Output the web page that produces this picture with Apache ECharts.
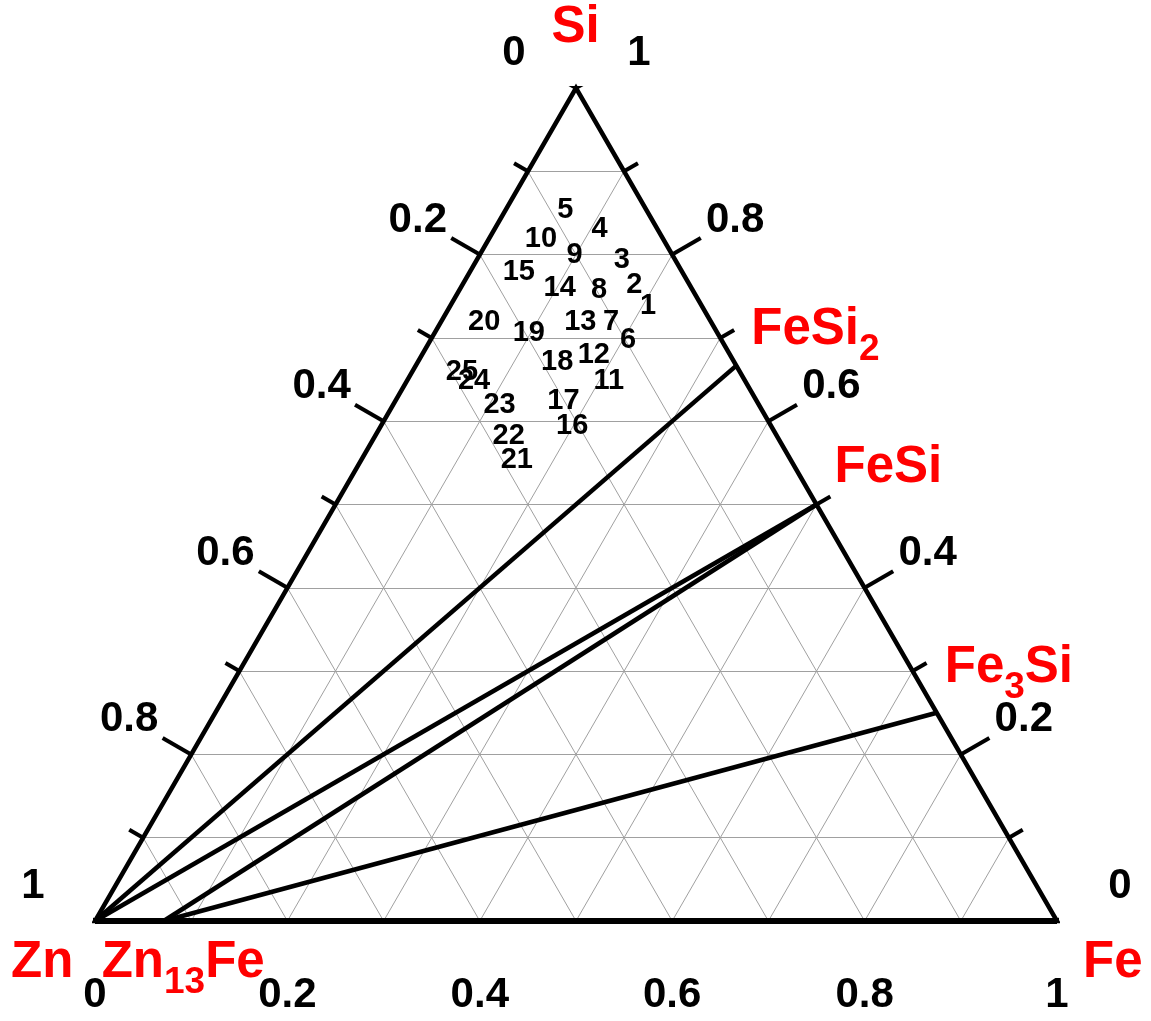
<!DOCTYPE html>
<html>
<head>
<meta charset="utf-8">
<script src="https://cdn.jsdelivr.net/npm/echarts@6/dist/echarts.min.js"></script>
<style>
  html, body { margin: 0; padding: 0; background: #ffffff; }
  #chart { width: 1151px; height: 1021px; }
</style>
</head>
<body>
<div id="chart"></div>
<script>
// Zn–Fe–Si ternary section: sample compositions (mole fractions) and tie lines.

// Sample points: label, Fe fraction, Si fraction, Zn fraction
const sampleIds = ['1', '2', '3', '4', '5', '6', '7', '8', '9', '10',
                   '11', '12', '13', '14', '15', '16', '17', '18', '19', '20',
                   '21', '22', '23', '24', '25'];
const sampleFe = [0.206, 0.179, 0.151, 0.109, 0.062, 0.205, 0.177, 0.145, 0.099, 0.054,
                  0.210, 0.179, 0.145, 0.103, 0.051, 0.199, 0.175, 0.145, 0.098, 0.045,
                  0.162, 0.139, 0.111, 0.070, 0.052];
const sampleSi = [0.738, 0.763, 0.793, 0.831, 0.854, 0.698, 0.719, 0.758, 0.799, 0.819,
                  0.648, 0.679, 0.719, 0.760, 0.779, 0.594, 0.624, 0.671, 0.706, 0.719,
                  0.553, 0.582, 0.619, 0.648, 0.659];
const sampleZn = [0.056, 0.058, 0.056, 0.060, 0.084, 0.097, 0.104, 0.097, 0.102, 0.127,
                  0.142, 0.142, 0.136, 0.137, 0.170, 0.207, 0.201, 0.184, 0.196, 0.236,
                  0.285, 0.279, 0.270, 0.282, 0.289];

// Pure elements at the corners
const elementNames = ['Zn', 'Fe', 'Si'];
const elementFe = [0, 1, 0];
const elementSi = [0, 0, 1];

// Intermediate phases (stoichiometric compositions)
const phaseNames = ['Zn13Fe', 'FeSi2', 'FeSi', 'Fe3Si'];
const phaseFe = [1 / 14, 1 / 3, 1 / 2, 3 / 4];
const phaseSi = [0, 2 / 3, 1 / 2, 1 / 4];

// Tie lines between phases
const tieFrom = ['Zn', 'Zn', 'Zn13Fe', 'Zn13Fe'];
const tieTo = ['FeSi2', 'FeSi', 'FeSi', 'Fe3Si'];

// Axis ticks (same on all three sides)
const majorTicks = [0, 0.2, 0.4, 0.6, 0.8, 1];
const majorTickLabels = ['0', '0.2', '0.4', '0.6', '0.8', '1'];
const minorTicks = [0.1, 0.3, 0.5, 0.7, 0.9];
const gridLevels = [0.1, 0.2, 0.3, 0.4, 0.5, 0.6, 0.7, 0.8, 0.9];

// ---------------------------------------------------------------------------
const S3 = Math.sqrt(3);
const PX = 962;                 // pixels per unit side length
const MAJOR_LEN = 33 / PX;
const MINOR_LEN = 16 / PX;
const FONT = '"Liberation Sans", Arial, Helvetica, sans-serif';

// ternary (Fe, Si) -> cartesian, Zn at origin, Fe at (1,0), Si at top
function tern(fe, si) { return [fe + si / 2, si * S3 / 2]; }

const compositions = {};
elementNames.forEach((n, i) => { compositions[n] = [elementFe[i], elementSi[i]]; });
phaseNames.forEach((n, i) => { compositions[n] = [phaseFe[i], phaseSi[i]]; });
function at(name) { const c = compositions[name]; return tern(c[0], c[1]); }

// grid lines of constant Fe, Si and Zn
const gridData = [];
gridLevels.forEach(v => {
  gridData.push({ coords: [tern(v, 0), tern(v, 1 - v)] });
  gridData.push({ coords: [tern(0, v), tern(1 - v, v)] });
  gridData.push({ coords: [tern(1 - v, 0), tern(0, 1 - v)] });
});

// the three sides: base point on the edge and outward tick direction
const sides = {
  bottom: { point: v => tern(v, 0),         dir: [0, -1] },
  left:   { point: v => tern(0, 1 - v),     dir: [-S3 / 2, 0.5] },
  right:  { point: v => tern(1 - v, v),     dir: [S3 / 2, 0.5] }
};
const tickData = [];
Object.keys(sides).forEach(k => {
  const s = sides[k];
  const add = (v, len) => {
    const p = s.point(v);
    tickData.push({ coords: [p, [p[0] + s.dir[0] * len, p[1] + s.dir[1] * len]] });
  };
  majorTicks.forEach(v => add(v, MAJOR_LEN));
  minorTicks.forEach(v => add(v, MINOR_LEN));
});

const tieData = tieFrom.map((f, i) => ({ coords: [at(f), at(tieTo[i])] }));

// invisible anchor symbol that only carries a label
const hiddenSymbol = {
  symbol: 'circle', symbolSize: 1,
  itemStyle: { color: 'rgba(0,0,0,0)', opacity: 1 }
};

function tickLabelSeries(side, offset) {
  return Object.assign({
    type: 'scatter', silent: true, z: 6, clip: false,
    emphasis: { disabled: true },
    data: majorTicks.map((v, i) => ({ value: sides[side].point(v), name: majorTickLabels[i] })),
    label: {
      show: true, position: 'inside', offset: offset, formatter: '{b}',
      color: '#000000', opacity: 1, fontFamily: FONT, fontWeight: 'bold', fontSize: 42,
      align: 'center', verticalAlign: 'middle', textBorderWidth: 0
    }
  }, hiddenSymbol);
}

// chemical formula -> rich text with subscripted digits
function formulaRich(name) {
  return name.split(/(\d+)/).filter(t => t).map(t => /^\d+$/.test(t) ? '{s|' + t + '}' : '{m|' + t + '}').join('');
}
const redRich = {
  m: { fontFamily: FONT, fontWeight: 'bold', fontSize: 51, color: '#ff0000' },
  s: { fontFamily: FONT, fontWeight: 'bold', fontSize: 37, color: '#ff0000', padding: [40, 0, 0, 0] }
};
function redLabelSeries(names, offsets, align) {
  return Object.assign({
    type: 'scatter', silent: true, z: 7, clip: false,
    emphasis: { disabled: true },
    data: names.map((n, i) => ({
      value: at(n), name: n,
      label: { offset: offsets[i], align: align[i] }
    })),
    label: {
      show: true, position: 'inside', verticalAlign: 'middle', textBorderWidth: 0, opacity: 1,
      formatter: p => formulaRich(p.name), rich: redRich
    }
  }, hiddenSymbol);
}

const option = {
  animation: false,
  backgroundColor: '#ffffff',
  grid: { left: 95, right: 94, top: 88, bottom: 100 },
  xAxis: { type: 'value', min: 0, max: 1, show: false },
  yAxis: { type: 'value', min: 0, max: S3 / 2, show: false },
  series: [
    {
      type: 'lines', coordinateSystem: 'cartesian2d', silent: true, z: 1,
      lineStyle: { color: '#a0a0a0', width: 1, opacity: 1 },
      data: gridData
    },
    {
      type: 'lines', coordinateSystem: 'cartesian2d', silent: true, z: 3,
      lineStyle: { color: '#000', width: 4.5, opacity: 1 },
      data: tieData
    },
    {
      type: 'line', silent: true, z: 4, symbol: 'none', showSymbol: false, clip: false,
      lineStyle: { color: '#000', width: 4.5, join: 'miter', opacity: 1 },
      data: [at('Zn'), at('Fe'), at('Si'), at('Zn'), at('Fe')]
    },
    {
      type: 'lines', coordinateSystem: 'cartesian2d', silent: true, z: 4,
      lineStyle: { color: '#000', width: 6, opacity: 1 },
      data: [{ coords: [at('Zn'), at('Fe')] }]
    },
    {
      type: 'lines', coordinateSystem: 'cartesian2d', silent: true, z: 4,
      lineStyle: { color: '#000', width: 4, opacity: 1 },
      data: tickData
    },
    tickLabelSeries('bottom', [0, 74]),
    tickLabelSeries('left', [-62, -34.5]),
    tickLabelSeries('right', [63, -34.5]),
    redLabelSeries(elementNames, [[-84, 42], [26, 42], [-0.5, -60]], ['left', 'left', 'center']),
    redLabelSeries(phaseNames, [[-62, 42], [15, -36], [18, -37], [8, -45]], ['left', 'left', 'left', 'left']),
    Object.assign({
      type: 'scatter', silent: true, z: 8, clip: false,
      emphasis: { disabled: true },
      data: sampleIds.map((id, i) => ({ value: tern(sampleFe[i], sampleSi[i]), name: id, zn: sampleZn[i] })),
      label: {
        show: true, position: 'inside', formatter: '{b}',
        color: '#000000', opacity: 1, fontFamily: FONT, fontWeight: 'bold', fontSize: 29,
        align: 'center', verticalAlign: 'middle', textBorderWidth: 0
      }
    }, hiddenSymbol)
  ]
};

const chart = echarts.init(document.getElementById('chart'), null, { renderer: 'canvas' });
chart.setOption(option);
</script>
</body>
</html>
